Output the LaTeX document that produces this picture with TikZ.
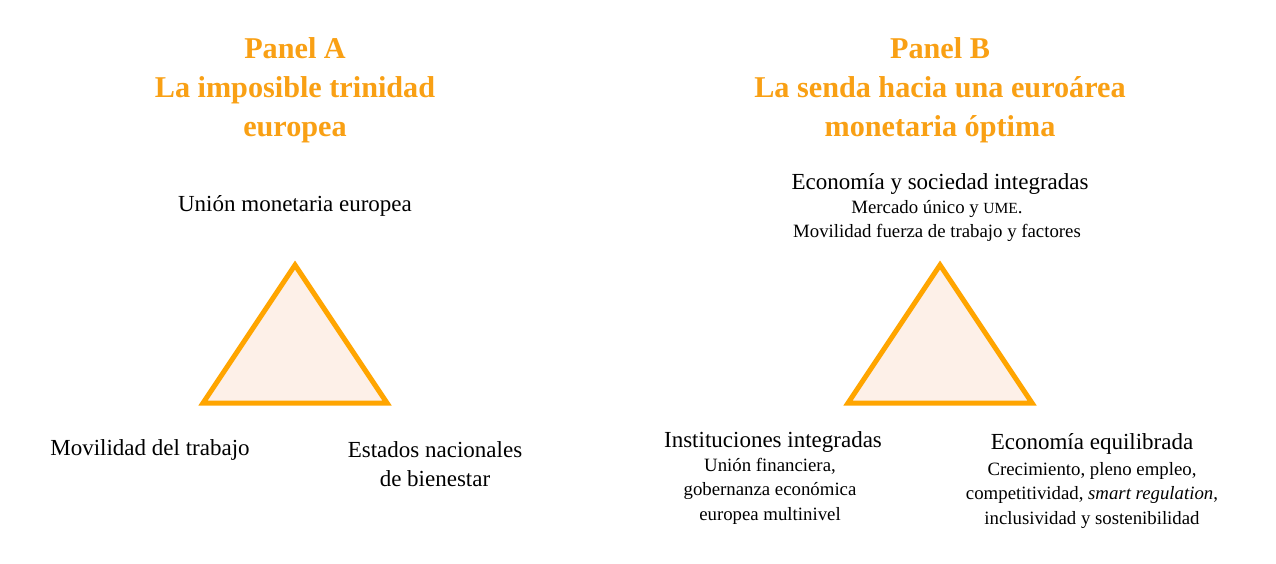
\documentclass[tikz,border=0pt]{standalone}
\usepackage{fontspec}
\setmainfont{Liberation Serif}
\definecolor{orng}{RGB}{255,165,0}
\definecolor{ttl}{RGB}{249,160,20}
\definecolor{tfill}{RGB}{253,240,232}
\newcommand{\fakesc}[1]{{\fontsize{15.5}{20}\selectfont #1}}
\begin{document}
\begin{tikzpicture}[x=1pt,y=-1pt,
  tri/.style={draw=orng,fill=tfill,line width=5pt,line join=miter},
  title/.style={text=ttl,font=\fontsize{30.2}{39}\selectfont\bfseries,align=center,anchor=center},
  lbl/.style={font=\fontsize{23}{29}\selectfont,align=center,anchor=center},
  sub/.style={font=\fontsize{18.8}{24.5}\selectfont,align=center,anchor=center}]
\path[use as bounding box,fill=white] (0,0) rectangle (1276,563);
% Panel A
\node[title] (tA) at (295,90) {Panel A\\La imposible trinidad\\europea};
\draw[tri] (295,265) coordinate (a1) -- (203,403) coordinate (a2) -- (387,403) coordinate (a3) -- cycle;
\node[lbl] (aTop) at (295,206) {Unión monetaria europea};
\node[lbl] (aLeft) at (150,450) {Movilidad del trabajo};
\node[lbl] (aRight) at (435,464) {Estados nacionales\\de bienestar};
% Panel B
\node[title] (tB) at (940,90) {Panel B\\La senda hacia una euroárea\\monetaria óptima};
\draw[tri] (940,265) coordinate (b1) -- (848,403) coordinate (b2) -- (1032,403) coordinate (b3) -- cycle;
\node[lbl] (bTop) at (940,184) {Economía y sociedad integradas};
\node[sub] (bTopS) at (937,221) {Mercado único y \fakesc{UME}.\\Movilidad fuerza de trabajo y factores};
\node[lbl] (bLeft) at (773,442) {Instituciones integradas};
\node[sub] (bLeftS) at (770,491) {Unión financiera,\\gobernanza económica\\europea multinivel};
\node[lbl] (bRight) at (1092,444) {Economía equilibrada};
\node[sub] (bRightS) at (1092,495) {Crecimiento, pleno empleo,\\competitividad, \textit{smart regulation},\\inclusividad y sostenibilidad};
\end{tikzpicture}
\end{document}
